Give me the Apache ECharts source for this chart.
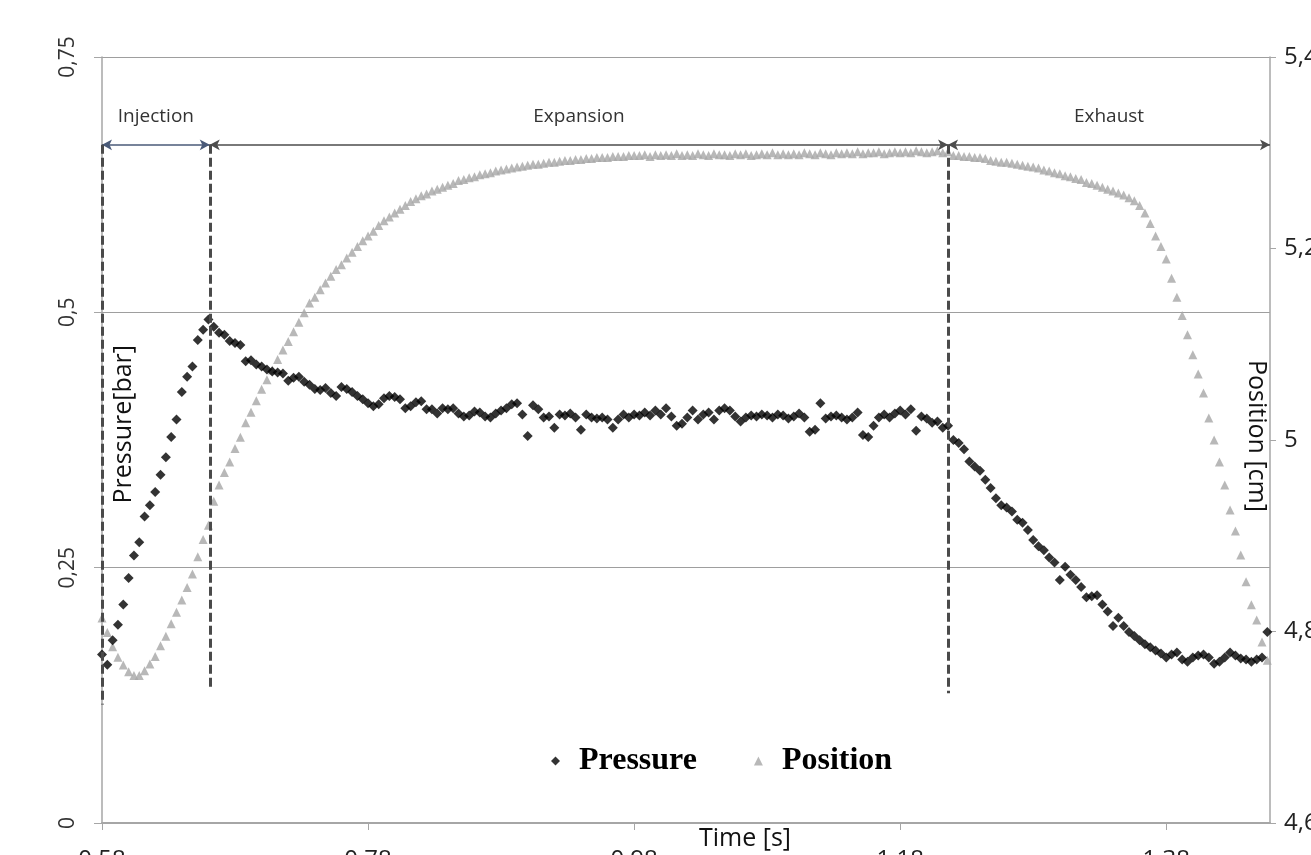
<!DOCTYPE html>
<html>
<head>
<meta charset="utf-8">
<script src="https://cdn.jsdelivr.net/npm/echarts@6/dist/echarts.min.js"></script>
<style>
html,body{margin:0;padding:0;background:#fff;overflow:hidden;}
#chart{width:1311px;height:855px;}
</style>
</head>
<body>
<div id="chart"></div>
<script>
// Time samples [s]
const time = [
0.580,0.584,0.588,0.592,0.596,0.600,0.604,0.608,0.612,0.616,
0.620,0.624,0.628,0.632,0.636,0.640,0.644,0.648,0.652,0.656,
0.660,0.664,0.668,0.672,0.676,0.680,0.684,0.688,0.692,0.696,
0.700,0.704,0.708,0.712,0.716,0.720,0.724,0.728,0.732,0.736,
0.740,0.744,0.748,0.752,0.756,0.760,0.764,0.768,0.772,0.776,
0.780,0.784,0.788,0.792,0.796,0.800,0.804,0.808,0.812,0.816,
0.820,0.824,0.828,0.832,0.836,0.840,0.844,0.848,0.852,0.856,
0.860,0.864,0.868,0.872,0.876,0.880,0.884,0.888,0.892,0.896,
0.900,0.904,0.908,0.912,0.916,0.920,0.924,0.928,0.932,0.936,
0.940,0.944,0.948,0.952,0.956,0.960,0.964,0.968,0.972,0.976,
0.980,0.984,0.988,0.992,0.996,1.000,1.004,1.008,1.012,1.016,
1.020,1.024,1.028,1.032,1.036,1.040,1.044,1.048,1.052,1.056,
1.060,1.064,1.068,1.072,1.076,1.080,1.084,1.088,1.092,1.096,
1.100,1.104,1.108,1.112,1.116,1.120,1.124,1.128,1.132,1.136,
1.140,1.144,1.148,1.152,1.156,1.160,1.164,1.168,1.172,1.176,
1.180,1.184,1.188,1.192,1.196,1.200,1.204,1.208,1.212,1.216,
1.220,1.224,1.228,1.232,1.236,1.240,1.244,1.248,1.252,1.256,
1.260,1.264,1.268,1.272,1.276,1.280,1.284,1.288,1.292,1.296,
1.300,1.304,1.308,1.312,1.316,1.320,1.324,1.328,1.332,1.336,
1.340,1.344,1.348,1.352,1.356,1.360,1.364,1.368,1.372,1.376,
1.380,1.384,1.388,1.392,1.396,1.400,1.404,1.408,1.412,1.416,
1.420,1.424,1.428,1.432,1.436,1.440,1.444,1.448,1.452,1.456
];

// Pressure [bar]
const pressure = [
0.165,0.155,0.179,0.194,0.214,0.240,0.262,0.275,0.300,0.311,
0.324,0.341,0.358,0.378,0.395,0.422,0.437,0.447,0.473,0.483,
0.493,0.486,0.480,0.478,0.472,0.470,0.468,0.452,0.453,0.449,
0.447,0.444,0.442,0.441,0.440,0.433,0.436,0.437,0.432,0.429,
0.425,0.424,0.426,0.421,0.418,0.427,0.425,0.422,0.418,0.415,
0.411,0.408,0.410,0.416,0.418,0.417,0.415,0.406,0.408,0.412,
0.413,0.405,0.405,0.401,0.406,0.405,0.406,0.401,0.398,0.399,
0.403,0.402,0.398,0.397,0.401,0.404,0.406,0.410,0.411,0.400,
0.379,0.409,0.405,0.397,0.398,0.387,0.400,0.399,0.401,0.397,
0.385,0.400,0.397,0.396,0.397,0.395,0.387,0.395,0.400,0.397,
0.400,0.399,0.402,0.399,0.404,0.400,0.406,0.398,0.389,0.391,
0.397,0.404,0.395,0.400,0.402,0.395,0.404,0.406,0.404,0.398,
0.393,0.397,0.399,0.398,0.400,0.399,0.397,0.400,0.399,0.396,
0.398,0.401,0.397,0.383,0.385,0.411,0.396,0.398,0.399,0.397,
0.395,0.397,0.402,0.380,0.378,0.389,0.397,0.400,0.397,0.401,
0.404,0.400,0.405,0.384,0.398,0.396,0.392,0.393,0.387,0.389,
0.375,0.372,0.366,0.354,0.349,0.345,0.336,0.328,0.318,0.311,
0.309,0.305,0.297,0.294,0.287,0.277,0.271,0.267,0.260,0.255,
0.238,0.251,0.243,0.238,0.231,0.221,0.222,0.223,0.214,0.207,
0.193,0.201,0.193,0.187,0.183,0.179,0.175,0.172,0.169,0.166,
0.162,0.165,0.167,0.160,0.158,0.162,0.164,0.165,0.162,0.156,
0.158,0.162,0.167,0.164,0.161,0.160,0.158,0.160,0.162,0.187
];

// Position [cm]
const position = [
4.814,4.799,4.784,4.773,4.765,4.758,4.754,4.754,4.759,4.766,
4.774,4.785,4.795,4.808,4.820,4.833,4.846,4.860,4.878,4.896,
4.911,4.936,4.953,4.966,4.977,4.991,5.003,5.018,5.029,5.041,
5.053,5.063,5.073,5.084,5.094,5.103,5.113,5.123,5.133,5.143,
5.149,5.157,5.164,5.171,5.178,5.183,5.190,5.196,5.202,5.208,
5.213,5.218,5.224,5.229,5.233,5.237,5.241,5.245,5.249,5.252,
5.255,5.257,5.260,5.262,5.264,5.266,5.268,5.271,5.272,5.274,
5.275,5.277,5.278,5.279,5.281,5.282,5.283,5.284,5.285,5.286,
5.287,5.288,5.288,5.289,5.290,5.290,5.291,5.292,5.292,5.293,
5.293,5.294,5.294,5.295,5.295,5.295,5.296,5.296,5.296,5.297,
5.297,5.297,5.298,5.296,5.298,5.297,5.298,5.297,5.299,5.297,
5.298,5.297,5.299,5.298,5.297,5.299,5.298,5.298,5.297,5.299,
5.298,5.299,5.297,5.298,5.299,5.298,5.300,5.298,5.299,5.298,
5.299,5.298,5.300,5.299,5.298,5.300,5.299,5.298,5.300,5.299,
5.300,5.299,5.301,5.299,5.300,5.300,5.301,5.299,5.300,5.301,
5.300,5.301,5.300,5.302,5.301,5.300,5.301,5.302,5.300,5.301,
5.297,5.297,5.296,5.296,5.295,5.295,5.294,5.292,5.291,5.290,
5.290,5.289,5.288,5.287,5.286,5.285,5.284,5.282,5.281,5.279,
5.278,5.276,5.275,5.273,5.272,5.269,5.268,5.266,5.264,5.262,
5.260,5.258,5.256,5.253,5.250,5.245,5.237,5.226,5.213,5.202,
5.189,5.169,5.149,5.130,5.110,5.089,5.069,5.049,5.023,5.000,
4.977,4.953,4.927,4.905,4.880,4.852,4.828,4.812,4.789,4.770
];

// Axis ticks
const xTicks = [0.58, 0.78, 0.98, 1.18, 1.38];
const xRange = [0.58, 1.458];
const pressureRange = [0, 0.75, 0.25];
const positionRange = [4.6, 5.4, 0.2];

// Phase annotations
const phaseNames = ['Injection', 'Expansion', 'Exhaust'];
const phaseBounds = [0.58, 0.661, 1.216, 1.458];
const arrowLevel = 0.664;          // pressure units
const dashedBottoms = [0.116, 0.130, 0.127];  // pressure units

const comma = s => String(s).replace('.', ',');

const arrowColors = ['#4a5a78', '#4d4d4d', '#4d4d4d'];
const markData = [];
phaseNames.forEach((name, k) => {
  markData.push([
    { coord: [phaseBounds[k], arrowLevel], symbol: 'arrow', symbolSize: [8, 10],
      lineStyle: { color: arrowColors[k], width: 1.5, type: 'solid' },
      label: { show: true, formatter: name, position: 'insideMiddleTop', distance: 19,
               color: '#333', fontSize: 19, fontFamily: 'Open Sans' } },
    { coord: [phaseBounds[k + 1], arrowLevel], symbol: 'arrow', symbolSize: [8, 10] }
  ]);
});
dashedBottoms.forEach((b, k) => {
  markData.push([
    { coord: [phaseBounds[k], arrowLevel], symbol: 'none',
      lineStyle: { color: '#4a4a4a', width: 3, type: [9, 4] }, label: { show: false } },
    { coord: [phaseBounds[k], b], symbol: 'none' }
  ]);
});

const chart = echarts.init(document.getElementById('chart'), null, { renderer: 'canvas' });
chart.setOption({
  animation: false,
  backgroundColor: '#ffffff',
  grid: { left: 102, right: 41, top: 57, bottom: 32, containLabel: false, outerBoundsMode: 'none' },
  legend: {
    data: ['Pressure', 'Position'],
    left: 546, top: 740,
    itemGap: 57, itemWidth: 9, itemHeight: 9,
    textStyle: { fontFamily: 'Liberation Serif', fontWeight: 'bold', fontSize: 32, color: '#000',
                 padding: [0, 0, 0, 14] }
  },
  xAxis: {
    type: 'value', min: xRange[0], max: xRange[1],
    axisLine: { show: true, lineStyle: { color: '#a6a6a6', width: 2 } },
    axisTick: { show: true, length: 7, customValues: xTicks, lineStyle: { color: '#a6a6a6' } },
    axisLabel: { customValues: xTicks, margin: 25, fontSize: 24, color: '#222', fontFamily: 'Open Sans',
                 formatter: v => Number(v).toFixed(2).replace('.', ',') },
    splitLine: { show: false }
  },
  yAxis: [
    {
      type: 'value', min: pressureRange[0], max: pressureRange[1], interval: pressureRange[2],
      axisLine: { show: true, lineStyle: { color: '#a6a6a6', width: 1.5 } },
      axisTick: { show: true, length: 8, lineStyle: { color: '#a6a6a6' } },
      axisLabel: { rotate: 90, margin: 23, fontSize: 21, color: '#333', fontFamily: 'Open Sans',
                   formatter: v => comma(+Number(v).toFixed(2)) },
      splitLine: { show: true, lineStyle: { color: '#9e9e9e', width: 1.2 } }
    },
    {
      type: 'value', min: positionRange[0], max: positionRange[1], interval: positionRange[2],
      position: 'right',
      axisLine: { show: true, lineStyle: { color: '#a6a6a6', width: 1.5 } },
      axisTick: { show: true, length: 6, lineStyle: { color: '#a6a6a6' } },
      axisLabel: { margin: 14, fontSize: 24, color: '#222', fontFamily: 'Open Sans',
                   formatter: v => comma(+Number(v).toFixed(1)) },
      splitLine: { show: false }
    }
  ],
  series: [
    {
      name: 'Position', type: 'scatter', yAxisIndex: 1,
      symbol: 'triangle', symbolSize: 9,
      itemStyle: { color: '#a6a6a6' },
      data: time.map((t, i) => [t, position[i]])
    },
    {
      name: 'Pressure', type: 'scatter', yAxisIndex: 0,
      symbol: 'diamond', symbolSize: 10,
      itemStyle: { color: '#000000' },
      data: time.map((t, i) => [t, pressure[i]]),
      markLine: { silent: true, animation: false, data: markData, symbol: ['arrow', 'arrow'] }
    }
  ],
  graphic: [
    { type: 'text', left: 111, top: 345, rotation: Math.PI / 2,
      style: { text: 'Pressure[bar]', fontSize: 25, fontFamily: 'Open Sans', fill: '#111', textAlign: 'center', textVerticalAlign: 'middle' } },
    { type: 'text', left: 1244, top: 360, rotation: -Math.PI / 2,
      style: { text: 'Position [cm]', fontSize: 25, fontFamily: 'Open Sans', fill: '#111', textAlign: 'center', textVerticalAlign: 'middle' } },
    { type: 'text', left: 699, top: 826,
      style: { text: 'Time [s]', fontSize: 25, fontFamily: 'Open Sans', fill: '#111' } }
  ]
});
</script>
</body>
</html>
